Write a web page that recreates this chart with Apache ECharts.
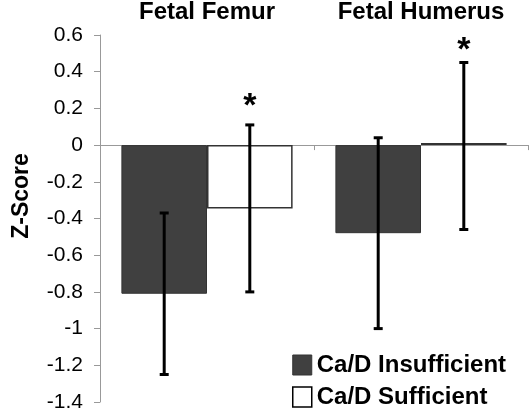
<!DOCTYPE html>
<html>
<head>
<meta charset="utf-8">
<script src="https://cdn.jsdelivr.net/npm/echarts@6/dist/echarts.min.js"></script>
<style>html,body{margin:0;padding:0;background:#fff}#c{width:531px;height:410px}</style>
</head>
<body>
<div id="c"></div>
<script>
const categories = ['Fetal Femur', 'Fetal Humerus'];
const seriesNames = ['Ca/D Insufficient', 'Ca/D Sufficient'];
const insufficient = [-0.81, -0.48];
const sufficient = [-0.345, 0.012];
const insufficientLow = [-1.25, -1.00];
const insufficientHigh = [-0.37, 0.04];
const sufficientLow = [-0.80, -0.46];
const sufficientHigh = [0.11, 0.45];
const starY = [0.245, 0.545];
const yTicks = {min: -1.4, max: 0.6, interval: 0.2};

const FONT = 'Liberation Sans, Arial, sans-serif';

function errRender(side) {
  return function (params, api) {
    const i = api.value(0);
    const lo = api.coord([i, api.value(1)]);
    const hi = api.coord([i, api.value(2)]);
    const bw = api.size([1, 0])[0] * 0.8 / 2;
    const x = lo[0] + side * bw / 2;
    const cap = 4.5;
    const st = {stroke: '#000', lineWidth: 3};
    const children = [
      {type: 'line', shape: {x1: x, y1: lo[1], x2: x, y2: hi[1]}, style: st},
      {type: 'line', shape: {x1: x - cap, y1: lo[1], x2: x + cap, y2: lo[1]}, style: st},
      {type: 'line', shape: {x1: x - cap, y1: hi[1], x2: x + cap, y2: hi[1]}, style: st}
    ];
    return {type: 'group', children: children};
  };
}

function starRender(params, api) {
  const i = api.value(0);
  const p = api.coord([i, api.value(1)]);
  const bw = api.size([1, 0])[0] * 0.8 / 2;
  const x = p[0] + bw / 2;
  return {
    type: 'text',
    x: x, y: p[1] + 6,
    style: {text: '*', font: 'bold 34px ' + FONT, fill: '#000', align: 'center', verticalAlign: 'middle'}
  };
}

const chart = echarts.init(document.getElementById('c'), null, {renderer: 'canvas'});
chart.setOption({
  animation: false,
  backgroundColor: '#fff',
  textStyle: {fontFamily: FONT},
  grid: {left: 100, right: 3, top: 35, bottom: 8, containLabel: false, outerBoundsMode: 'none'},
  legend: {
    orient: 'vertical', left: 292, top: 353, width: 239, height: 120, padding: 0,
    itemWidth: 19, itemHeight: 20, itemGap: 8,
    textStyle: {fontFamily: FONT, fontWeight: 'bold', fontSize: 24, color: '#000', lineHeight: 20},
    data: [
      {name: seriesNames[0], icon: 'rect', itemStyle: {color: '#404040', borderColor: '#333', borderWidth: 1}},
      {name: seriesNames[1], icon: 'rect', itemStyle: {color: '#fff', borderColor: '#000', borderWidth: 1.5}}
    ]
  },
  xAxis: [
    {
      type: 'category', data: categories, position: 'top',
      axisLine: {show: false, onZero: false}, axisTick: {show: false},
      axisLabel: {interval: 0, hideOverlap: false, margin: 11, fontFamily: FONT, fontWeight: 'bold', fontSize: 24, color: '#000'}
    },
    {
      type: 'category', data: categories, position: 'bottom',
      axisLine: {show: true, onZero: true, lineStyle: {color: '#999', width: 1}},
      axisTick: {show: true, length: 5, interval: 0, lineStyle: {color: '#999'}},
      axisLabel: {show: false}
    }
  ],
  yAxis: {
    type: 'value', min: yTicks.min, max: yTicks.max, interval: yTicks.interval,
    axisLine: {show: true, onZero: false, lineStyle: {color: '#999'}},
    axisTick: {show: true, length: 6, lineStyle: {color: '#999'}},
    splitLine: {show: false},
    axisLabel: {margin: 17, fontFamily: FONT, fontSize: 21, color: '#000',
      formatter: v => String(Math.round(v * 10) / 10)}
  },
  graphic: [{
    type: 'text', x: 22, y: 196, rotation: Math.PI / 2,
    style: {text: 'Z-Score', font: 'bold 23px ' + FONT, fill: '#000', align: 'center', verticalAlign: 'middle'}
  }],
  series: [
    {
      name: seriesNames[0], type: 'bar', xAxisIndex: 0, data: insufficient,
      barGap: '0%', barCategoryGap: '20%',
      itemStyle: {color: '#404040', borderColor: '#333', borderWidth: 1}
    },
    {
      name: seriesNames[1], type: 'bar', xAxisIndex: 0, data: sufficient,
      barGap: '0%', barCategoryGap: '20%',
      itemStyle: {color: '#fff', borderColor: '#333', borderWidth: 1.5}
    },
    {
      type: 'custom', xAxisIndex: 0, renderItem: errRender(-1), z: 5,
      data: categories.map((c, i) => [i, insufficientLow[i], insufficientHigh[i]])
    },
    {
      type: 'custom', xAxisIndex: 0, renderItem: errRender(1), z: 5,
      data: categories.map((c, i) => [i, sufficientLow[i], sufficientHigh[i]])
    },
    {
      type: 'custom', xAxisIndex: 0, renderItem: starRender, z: 5,
      data: categories.map((c, i) => [i, starY[i]])
    }
  ]
});
</script>
</body>
</html>
